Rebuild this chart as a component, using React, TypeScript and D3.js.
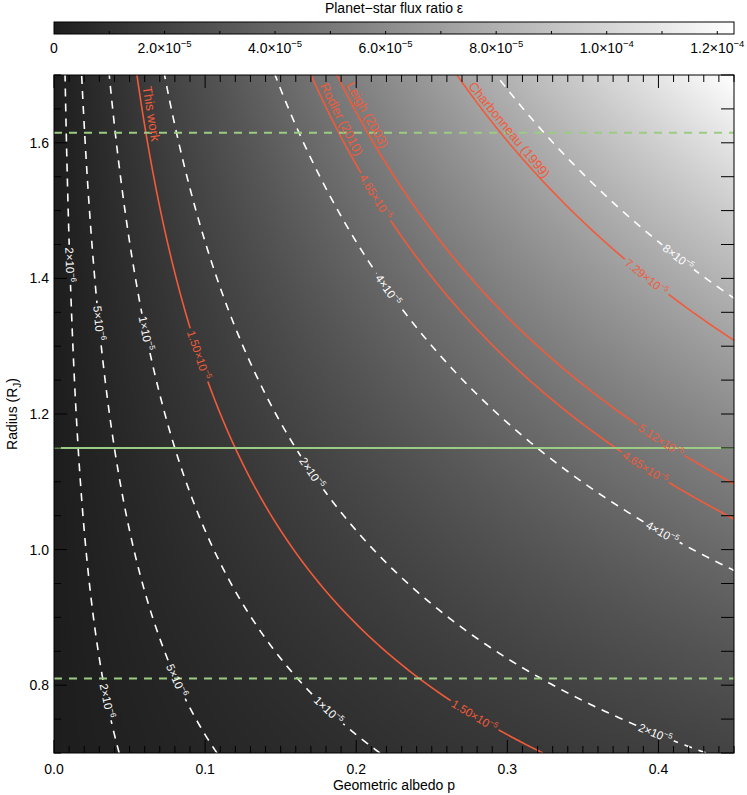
import React, { useMemo } from 'react';
import * as d3 from 'd3';

const width = 747;
const height = 795;
const plotLeft = 54;
const plotRight = 734;
const plotTop = 75;
const plotBottom = 753;
const font = 'Liberation Sans, Arial, Helvetica, sans-serif';

// epsilon = k * p * R^2  (k = (R_J / a)^2)
const k = 9.46e-5;
const albedoDomain = [0, 0.45];
const radiusDomain = [0.7, 1.7];

// white dashed reference contours
const whiteLevels = [2e-6, 5e-6, 1e-5, 2e-5, 4e-5, 8e-5];
const whiteLabelR = [[1.42, 0.777], [1.334, 0.807], [1.319, 0.763], [1.113, 0.729], [1.383, 1.025], [1.431]];

// measured flux ratios (red)
const redLevels = [1.5e-5, 4.65e-5, 5.12e-5, 7.29e-5];
const redNames = ['This work', 'Rodler (2010)', 'Leigh (2003)', 'Charbonneau (1999)'];
const redLabelR = [[1.287, 0.755], [1.52, 1.121], [1.161], [1.402]];
const redNameR = [1.641, 1.629, 1.635, 1.611];

// radius estimate and its range (green)
const radiusBest = 1.15;
const radiusRange = [0.81, 1.615];

const xMajor = [0, 0.1, 0.2, 0.3, 0.4];
const yMajor = [0.8, 1.0, 1.2, 1.4, 1.6];
const cbTicks = [0, 2e-5, 4e-5, 6e-5, 8e-5, 1e-4, 1.2e-4];

const red = '#f25a3a';
const green = '#9ccb84';

const x = d3.scaleLinear().domain(albedoDomain).range([plotLeft, plotRight]);
const y = d3.scaleLinear().domain(radiusDomain).range([plotBottom, plotTop]);
const epsMax = k * albedoDomain[1] * radiusDomain[1] * radiusDomain[1];
const gray = d3.scaleLinear<string>().domain([0, epsMax]).range(['#1d1d1d', '#ffffff']);
const cbX = d3.scaleLinear().domain([0, epsMax]).range([plotLeft, plotRight]);

const albedoAt = (lvl, r) => lvl / (k * r * r);

const curve = (lvl) => {
  const pts = d3.range(0, 601)
    .map(i => radiusDomain[0] + (i / 600) * (radiusDomain[1] - radiusDomain[0]))
    .map(r => [albedoAt(lvl, r), r])
    .filter(d => d[0] <= 0.6);
  return d3.line().x(d => x(d[0])).y(d => y(d[1]))(pts);
};

const anchor = (lvl, r) => {
  const d = 0.004;
  const ax = x(albedoAt(lvl, r + d)), ay = y(r + d);
  const bx = x(albedoAt(lvl, r - d)), by = y(r - d);
  return {
    x: x(albedoAt(lvl, r)),
    y: y(r),
    angle: (Math.atan2(by - ay, bx - ax) * 180) / Math.PI,
  };
};

const sci = (v, digits) => {
  const e = Math.floor(Math.log10(v) + 1e-9);
  const m = v / Math.pow(10, e);
  return { man: digits == null ? String(Math.round(m)) : m.toFixed(digits), exp: e };
};

const textWidth = (man, exp, fs) => {
  const sfs = fs * 0.7;
  let w = 0;
  for (const c of man) w += c === '.' ? 0.278 * fs : 0.556 * fs;
  w += 0.584 * fs + 2 * 0.556 * fs;
  w += 0.584 * sfs + String(Math.abs(exp)).length * 0.556 * sfs;
  return w;
};

const Sci = ({ man, exp, fs, fill, anchorPos = 'middle', dy = 0 }) => (
  <text textAnchor={anchorPos} y={dy} fontSize={fs} fill={fill} fontFamily={font}>
    {man}×10
    <tspan dy={-fs * 0.42} fontSize={fs * 0.68}>{'−' + Math.abs(exp)}</tspan>
  </text>
);

const useHeatmap = () =>
  useMemo(() => {
    if (typeof document === 'undefined') return '';
    const w = Math.round(plotRight - plotLeft);
    const h = Math.round(plotBottom - plotTop);
    const canvas = document.createElement('canvas');
    canvas.width = w;
    canvas.height = h;
    const ctx = canvas.getContext('2d');
    const img = ctx.createImageData(w, h);
    for (let j = 0; j < h; j++) {
      const r = y.invert(plotTop + j + 0.5);
      for (let i = 0; i < w; i++) {
        const p = x.invert(plotLeft + i + 0.5);
        const c = d3.rgb(gray(k * p * r * r));
        const o = (j * w + i) * 4;
        img.data[o] = c.r;
        img.data[o + 1] = c.g;
        img.data[o + 2] = c.b;
        img.data[o + 3] = 255;
      }
    }
    ctx.putImageData(img, 0, 0);
    return canvas.toDataURL();
  }, []);

export default function App() {
  const heat = useHeatmap();

  const whiteLabels = whiteLevels.flatMap((lvl, i) =>
    whiteLabelR[i].map(r => ({ ...anchor(lvl, r), ...sci(lvl, null), fill: '#ffffff' })));
  const redLabels = redLevels.flatMap((lvl, i) =>
    redLabelR[i].map(r => ({ ...anchor(lvl, r), ...sci(lvl, 2), fill: red })));
  const valueLabels = [...whiteLabels, ...redLabels];
  const nameLabels = redLevels.map((lvl, i) => ({ ...anchor(lvl, redNameR[i]), name: redNames[i] }));

  const xMinor = d3.range(0, 46).map(i => i * 0.01);
  const yMinor = d3.range(0, 21).map(i => 0.7 + i * 0.05);
  const isMajor = (v, list) => list.some(m => Math.abs(m - v) < 1e-6);

  const labelFs = 11.5;

  return (
    <svg width={width} height={height} style={{ position: 'absolute', left: 0, top: 0, background: '#fff' }}>
      <defs>
        <clipPath id="plot">
          <rect x={plotLeft} y={plotTop} width={plotRight - plotLeft} height={plotBottom - plotTop} />
        </clipPath>
        <mask id="gaps" maskUnits="userSpaceOnUse" x={0} y={0} width={width} height={height}>
          <rect x={0} y={0} width={width} height={height} fill="white" />
          {valueLabels.map((l, i) => {
            const w = textWidth(l.man, l.exp, labelFs) + 5;
            return (
              <rect key={i} x={-w / 2} y={-6} width={w} height={12} fill="black"
                transform={`translate(${l.x},${l.y}) rotate(${l.angle})`} />
            );
          })}
        </mask>
        <linearGradient id="cb" x1="0" x2="1" y1="0" y2="0">
          {d3.range(0, 11).map(i => (
            <stop key={i} offset={i / 10} stopColor={gray((i / 10) * epsMax)} />
          ))}
        </linearGradient>
      </defs>

      {/* colorbar */}
      <text x={(plotLeft + plotRight) / 2} y={13} textAnchor="middle" fontSize={14} fontFamily={font}>
        Planet−star flux ratio ε
      </text>
      <rect x={plotLeft} y={22} width={plotRight - plotLeft} height={12} fill="url(#cb)" stroke="#000" strokeWidth={1} />
      {d3.range(1, 13).map(i => (
        <line key={i} x1={cbX(i * 1e-5)} x2={cbX(i * 1e-5)} y1={34} y2={31} stroke="#000" strokeWidth={1} />
      ))}
      {cbTicks.map((t, i) =>
        t === 0 ? (
          <text key={i} x={cbX(t)} y={53} textAnchor="middle" fontSize={14} fontFamily={font}>0</text>
        ) : (
          <g key={i} transform={`translate(${cbX(t)},53)`}>
            <Sci {...sci(t, 1)} fs={14} fill="#000" />
          </g>
        ))}

      {/* heatmap */}
      {heat && (
        <image href={heat} x={plotLeft} y={plotTop} width={plotRight - plotLeft} height={plotBottom - plotTop}
          preserveAspectRatio="none" />
      )}

      <g clipPath="url(#plot)">
        <g mask="url(#gaps)" fill="none">
          {whiteLevels.map((lvl, i) => (
            <path key={'w' + i} d={curve(lvl)} stroke="#fff" strokeWidth={1.6} strokeDasharray="8,7" />
          ))}
          {redLevels.map((lvl, i) => (
            <path key={'r' + i} d={curve(lvl)} stroke={red} strokeWidth={1.6} />
          ))}
        </g>
        <line x1={plotLeft} x2={plotRight} y1={y(radiusBest)} y2={y(radiusBest)} stroke={green} strokeWidth={2} />
        {radiusRange.map((r, i) => (
          <line key={i} x1={plotLeft} x2={plotRight} y1={y(r)} y2={y(r)} stroke={green} strokeWidth={2} strokeDasharray="8,7" />
        ))}
      </g>

      {valueLabels.map((l, i) => (
        <g key={i} transform={`translate(${l.x},${l.y}) rotate(${l.angle})`}>
          <Sci man={l.man} exp={l.exp} fs={labelFs} fill={l.fill} dy={4} />
        </g>
      ))}
      {nameLabels.map((l, i) => (
        <g key={i} transform={`translate(${l.x},${l.y}) rotate(${l.angle})`}>
          <text textAnchor="middle" y={-4} fontSize={13} fill={red} fontFamily={font}>{l.name}</text>
        </g>
      ))}

      {/* frame and ticks */}
      <rect x={plotLeft} y={plotTop} width={plotRight - plotLeft} height={plotBottom - plotTop} fill="none" stroke="#000" strokeWidth={1} />
      {xMinor.map((v, i) => {
        const len = isMajor(v, xMajor) ? 13 : 7;
        return (
          <g key={i} stroke="#000" strokeWidth={1}>
            <line x1={x(v)} x2={x(v)} y1={plotBottom} y2={plotBottom - len} />
            <line x1={x(v)} x2={x(v)} y1={plotTop} y2={plotTop + len} />
          </g>
        );
      })}
      {yMinor.map((v, i) => {
        const len = isMajor(v, yMajor) ? 13 : 7;
        return (
          <g key={i} stroke="#000" strokeWidth={1}>
            <line x1={plotLeft} x2={plotLeft + len} y1={y(v)} y2={y(v)} />
            <line x1={plotRight} x2={plotRight - 13} y1={y(v)} y2={y(v)} />
          </g>
        );
      })}
      {xMajor.map((v, i) => (
        <text key={i} x={x(v)} y={774} textAnchor="middle" fontSize={14} fontFamily={font}>{v.toFixed(1)}</text>
      ))}
      {yMajor.map((v, i) => (
        <text key={i} x={plotLeft - 5} y={y(v) + 5} textAnchor="end" fontSize={14} fontFamily={font}>{v.toFixed(1)}</text>
      ))}
      <text x={(plotLeft + plotRight) / 2} y={790} textAnchor="middle" fontSize={14} fontFamily={font}>Geometric albedo p</text>
      <text transform={`translate(17,${(plotTop + plotBottom) / 2}) rotate(-90)`} textAnchor="middle" fontSize={14} fontFamily={font}>
        Radius (R<tspan dy={4} fontSize={10}>J</tspan><tspan dy={-4}>)</tspan>
      </text>
    </svg>
  );
}
